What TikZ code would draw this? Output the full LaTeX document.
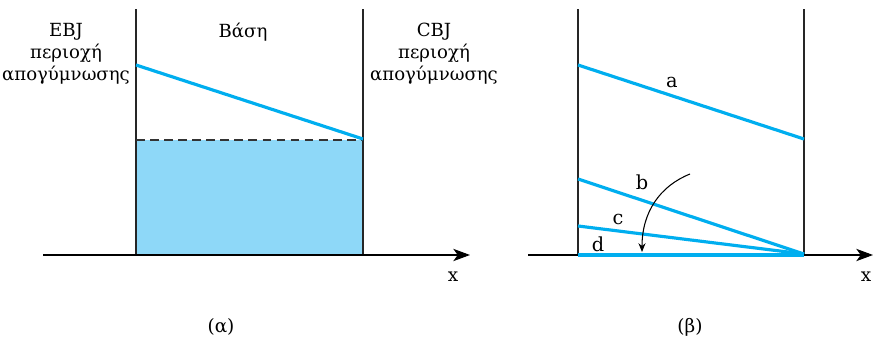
\documentclass[tikz,border=0pt]{standalone}
\usepackage{fontspec}
\setmainfont{DejaVu Serif}
\usetikzlibrary{arrows.meta}
\definecolor{bandblue}{HTML}{00AEEF}
\definecolor{basefill}{HTML}{8ED8F8}
\begin{document}
\begin{tikzpicture}[x=0.02cm, y=-0.02cm,
    wall/.style={draw=black!85, line width=0.6pt},
    xaxis/.style={draw=black, line width=0.6pt, -{Stealth[length=9.5pt, width=7pt, inset=2.5pt]}},
    profile/.style={draw=bandblue, line width=1.8pt},
    regionlbl/.style={font=\fontsize{10.3}{12.6}\selectfont, align=center, inner sep=0pt},
    curvelbl/.style={font=\fontsize{11}{12}\selectfont, inner sep=0pt},
    caplbl/.style={font=\fontsize{10.5}{12}\selectfont, inner sep=0pt}
  ]
  \useasboundingbox (0,0) rectangle (873,338);
  % panel (a)
  \coordinate (aBL) at (136,255);
  \coordinate (aBR) at (363,255);
  \fill[basefill] (136,140) rectangle (aBR);
  \draw[wall] (136,9) -- (aBL);
  \draw[wall] (363,9) -- (aBR);
  \draw[dashed, black!80, line width=0.6pt, dash pattern=on 5pt off 3pt] (136,140) -- (363,140);
  \draw[profile] (136,65) -- (363,139);
  \draw[xaxis] (43,255) -- (470,255);
  \node[regionlbl] (ebj) at (66,54) {EBJ\\περιοχή\\απογύμνωσης};
  \node[regionlbl] (base) at (243,32) {Βάση};
  \node[regionlbl] (cbj) at (434,54) {CBJ\\περιοχή\\απογύμνωσης};
  \node[caplbl] (xa) at (453,277) {x};
  \node[caplbl] (capa) at (221,327) {(α)};
  % panel (b)
  \coordinate (bBL) at (578,255);
  \coordinate (bBR) at (804,255);
  \draw[wall] (578,9) -- (bBL);
  \draw[wall] (804,9) -- (bBR);
  \draw[xaxis] (528,255) -- (873,255);
  \foreach \yl/\yr/\lbl/\lx/\ly in {65/139/a/672/82, 179/254/b/642/182, 226/254/c/618/219} {
    \draw[profile] (578,\yl) -- (804,\yr);
    \node[curvelbl] (lbl\lbl) at (\lx,\ly) {\lbl};
  }
  \draw[profile, line width=2.3pt] (bBL) -- (bBR);
  \node[curvelbl] (lbld) at (598,244) {d};
  \coordinate (arrS) at (690,174);
  \coordinate (arrE) at (642,252);
  \draw[line width=0.6pt, -{Stealth[length=5pt, width=4pt]}] (arrS) .. controls (660,186) and (642,212) .. (arrE);
  \node[caplbl] (xb) at (866,277) {x};
  \node[caplbl] (capb) at (690,327) {(β)};
\end{tikzpicture}
\end{document}
